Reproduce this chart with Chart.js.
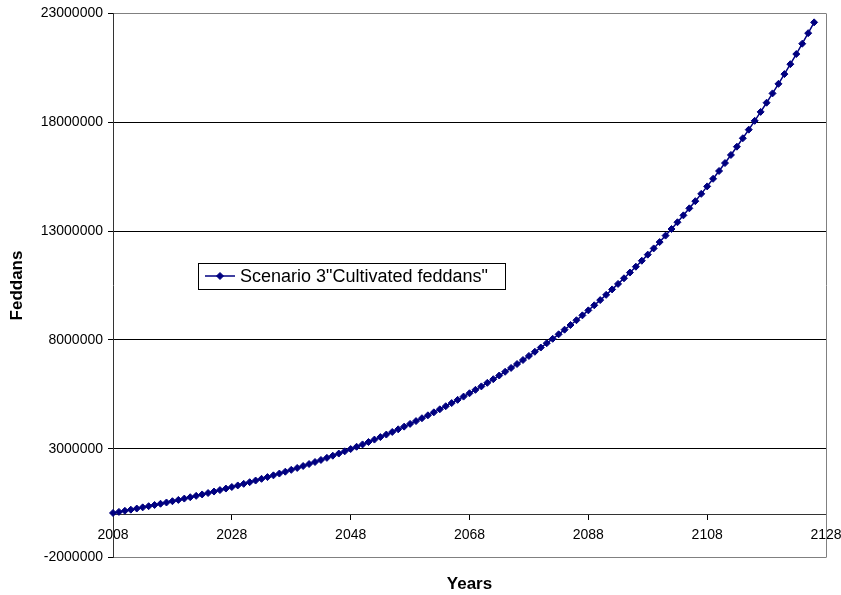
<!DOCTYPE html>
<html>
<head>
<meta charset="utf-8">
<title>Scenario 3 - Cultivated feddans</title>
<script src="https://cdn.jsdelivr.net/npm/chart.js@4/dist/chart.umd.min.js"></script>
<style>
  html, body { margin: 0; padding: 0; background: #ffffff; }
  #wrap { width: 841px; height: 595px; }
</style>
</head>
<body>
<div id="wrap"><canvas id="chart" width="841" height="595"></canvas></div>
<script>
// Years of the projection (one point per year)
const years = [
  2008, 2009, 2010, 2011, 2012, 2013, 2014, 2015, 2016, 2017,
  2018, 2019, 2020, 2021, 2022, 2023, 2024, 2025, 2026, 2027,
  2028, 2029, 2030, 2031, 2032, 2033, 2034, 2035, 2036, 2037,
  2038, 2039, 2040, 2041, 2042, 2043, 2044, 2045, 2046, 2047,
  2048, 2049, 2050, 2051, 2052, 2053, 2054, 2055, 2056, 2057,
  2058, 2059, 2060, 2061, 2062, 2063, 2064, 2065, 2066, 2067,
  2068, 2069, 2070, 2071, 2072, 2073, 2074, 2075, 2076, 2077,
  2078, 2079, 2080, 2081, 2082, 2083, 2084, 2085, 2086, 2087,
  2088, 2089, 2090, 2091, 2092, 2093, 2094, 2095, 2096, 2097,
  2098, 2099, 2100, 2101, 2102, 2103, 2104, 2105, 2106, 2107,
  2108, 2109, 2110, 2111, 2112, 2113, 2114, 2115, 2116, 2117,
  2118, 2119, 2120, 2121, 2122, 2123, 2124, 2125, 2126
];

// Cultivated feddans, scenario 3
const cultivatedFeddans = [
  50000, 99500, 150000, 201500, 254000, 307300, 361800, 417300, 473900, 531500,
  590300, 650000, 711100, 773200, 836600, 901100, 966900, 1033900, 1102200, 1171800,
  1242700, 1315000, 1388700, 1463800, 1540300, 1618300, 1697700, 1778700, 1861300, 1945400,
  2031200, 2118600, 2207700, 2298500, 2391100, 2485400, 2581600, 2679700, 2779600, 2881500,
  2985400, 3091300, 3199300, 3309400, 3421600, 3536100, 3652700, 3771600, 3892900, 4016600,
  4142800, 4271300, 4402500, 4536300, 4672600, 4811700, 4953500, 5098200, 5245800, 5396200,
  5549800, 5706200, 5865900, 6028800, 6194900, 6364400, 6537200, 6713600, 6893500, 7077000,
  7264100, 7455100, 7650000, 7848800, 8051500, 8258400, 8469400, 8684800, 8904600, 9128700,
  9357500, 9590900, 9829100, 10072000, 10320000, 10573100, 10831200, 11094700, 11363500, 11637800,
  11917800, 12203400, 12495000, 12792500, 13096200, 13406000, 13722100, 14044800, 14374100, 14710200,
  15053200, 15403200, 15760500, 16125100, 16497100, 16876900, 17264500, 17660000, 18063700, 18475700,
  18896300, 19325400, 19763500, 20210500, 20666900, 21132500, 21607800, 22092900, 22588000
];

// Axis tick labels
const xTickValues = [2008, 2028, 2048, 2068, 2088, 2108, 2128];
const yTickValues = [-2000000, 3000000, 8000000, 13000000, 18000000, 23000000];

const seriesLabel = 'Scenario 3"Cultivated feddans"';
const navy = '#000080';
const fontFamily = '"Liberation Sans", Arial, sans-serif';

// Thin grey frame on the right side of the plot area
const plotFrame = {
  id: 'plotFrame',
  beforeDatasetsDraw(chart) {
    const { ctx, chartArea: a } = chart;
    ctx.save();
    ctx.strokeStyle = '#808080';
    ctx.lineWidth = 1;
    ctx.beginPath();
    ctx.moveTo(Math.round(a.right) + 0.5, a.top);
    ctx.lineTo(Math.round(a.right) + 0.5, a.bottom);
    ctx.stroke();
    ctx.restore();
  }
};

// Boxed legend floating inside the plot area
const boxedLegend = {
  id: 'boxedLegend',
  afterDatasetsDraw(chart, args, opts) {
    const ds = chart.data.datasets[0];
    const ctx = chart.ctx;
    const { x, y, w, h } = opts;
    const cy = y + h / 2;
    ctx.save();
    ctx.fillStyle = '#ffffff';
    ctx.fillRect(x, y, w, h);
    ctx.strokeStyle = '#000000';
    ctx.lineWidth = 1;
    ctx.strokeRect(x + 0.5, y + 0.5, w, h);
    ctx.strokeStyle = ds.borderColor;
    ctx.lineWidth = ds.borderWidth;
    ctx.beginPath();
    ctx.moveTo(x + 7, cy);
    ctx.lineTo(x + 37, cy);
    ctx.stroke();
    ctx.fillStyle = ds.pointBackgroundColor;
    ctx.strokeStyle = ds.pointBorderColor;
    ctx.lineWidth = ds.pointBorderWidth;
    Chart.helpers.drawPoint(ctx, { pointStyle: ds.pointStyle, radius: ds.pointRadius, borderWidth: ds.pointBorderWidth }, x + 22, cy);
    ctx.fillStyle = '#000000';
    ctx.font = '18px ' + fontFamily;
    ctx.textBaseline = 'middle';
    ctx.textAlign = 'left';
    ctx.fillText(ds.label, x + 42, cy + 1);
    ctx.restore();
  }
};

const points = years.map((yr, i) => ({ x: yr, y: cultivatedFeddans[i] }));

new Chart(document.getElementById('chart'), {
  type: 'line',
  data: {
    datasets: [{
      label: seriesLabel,
      data: points,
      borderColor: navy,
      backgroundColor: navy,
      borderWidth: 1.5,
      pointStyle: 'rectRot',
      pointRadius: 3.5,
      pointBorderWidth: 1,
      pointBackgroundColor: navy,
      pointBorderColor: navy,
      tension: 0,
      clip: false
    }]
  },
  options: {
    responsive: false,
    devicePixelRatio: 1,
    animation: false,
    layout: { padding: { left: 0, right: 15, top: 13, bottom: 0 } },
    plugins: {
      legend: { display: false },
      tooltip: { enabled: false },
      title: {
        display: true,
        text: 'Years',
        position: 'bottom',
        fullSize: false,
        color: '#000000',
        font: { family: fontFamily, size: 17, weight: 'bold' },
        padding: { top: 17, bottom: 0 }
      },
      boxedLegend: { x: 198, y: 263, w: 307, h: 26 }
    },
    scales: {
      x: {
        type: 'linear',
        position: { y: 0 },
        min: 2008,
        max: 2128,
        afterBuildTicks: (scale) => { scale.ticks = xTickValues.map(v => ({ value: v })); },
        afterFit: (scale) => { scale.paddingLeft = 0; scale.paddingRight = 0; },
        ticks: {
          color: '#000000',
          font: { family: fontFamily, size: 14 },
          padding: 8,
          maxRotation: 0,
          autoSkip: false,
          callback: (v) => String(v)
        },
        grid: {
          drawOnChartArea: false,
          drawTicks: true,
          tickLength: 5,
          tickColor: '#000000'
        },
        border: { color: '#333333', width: 1 }
      },
      y: {
        type: 'linear',
        position: 'left',
        min: -2000000,
        max: 23000000,
        afterBuildTicks: (scale) => { scale.ticks = yTickValues.map(v => ({ value: v })); },
        afterFit: (scale) => { scale.width = 113; },
        ticks: {
          color: '#000000',
          font: { family: fontFamily, size: 14 },
          padding: 5,
          autoSkip: false,
          callback: (v) => String(v)
        },
        grid: {
          color: (c) => (c.tick && (c.tick.value === -2000000 || c.tick.value === 23000000)) ? '#808080' : '#000000',
          lineWidth: 1,
          drawTicks: true,
          tickLength: 5,
          tickColor: '#000000'
        },
        border: { color: '#333333', width: 1 },
        title: {
          display: true,
          text: 'Feddans',
          color: '#000000',
          font: { family: fontFamily, size: 17, weight: 'bold' },
          padding: { top: 7, bottom: 0 }
        }
      }
    }
  },
  plugins: [plotFrame, boxedLegend]
});
</script>
</body>
</html>
